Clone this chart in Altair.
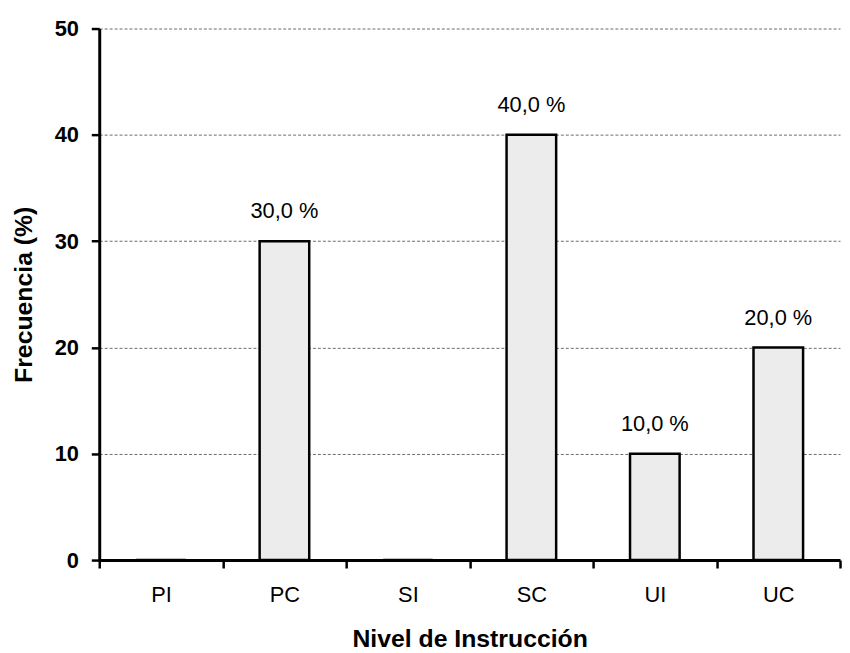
import altair as alt
import pandas as pd

categories = ["PI", "PC", "SI", "SC", "UI", "UC"]
values = [0.0, 30.0, 0.0, 40.0, 10.0, 20.0]
labels = [(f"{v:.1f}".replace(".", ",") + " %") if v > 0 else "" for v in values]
y_ticks = [0, 10, 20, 30, 40, 50]

df = pd.DataFrame({"cat": categories, "val": values, "lab": labels})

FONT = "Liberation Sans"

x_enc = alt.X(
    "cat:N",
    sort=categories,
    scale=alt.Scale(paddingInner=0, paddingOuter=0),
    axis=alt.Axis(
        title="Nivel de Instrucción",
        titleFont=FONT, titleFontSize=25, titleFontWeight="bold", titleColor="black",
        titlePadding=21,
        labelFont=FONT, labelFontSize=22, labelColor="black", labelAngle=0,
        labelPadding=17, labelBaseline="top",
        tickBand="extent", tickSize=8, tickWidth=2.5, tickColor="black",
        domainColor="black", domainWidth=3,
        grid=False,
    ),
)

y_enc = alt.Y(
    "val:Q",
    scale=alt.Scale(domain=[0, 50], nice=False),
    axis=alt.Axis(
        title="Frecuencia (%)",
        values=y_ticks,
        titleFont=FONT, titleFontSize=25, titleFontWeight="bold", titleColor="black",
        titleX=-76, titleBaseline="middle", titleAlign="center", titleAngle=270,
        labelFont=FONT, labelFontSize=22, labelFontWeight="bold", labelColor="black",
        labelPadding=13,
        tickSize=8, tickWidth=2.5, tickColor="black",
        domainColor="black", domainWidth=3,
        grid=True, gridColor="#6a6a6a", gridWidth=1, gridDash=[3, 2],
    ),
)

bars = alt.Chart(df).mark_bar(
    width=50, fill="#ececec", stroke="black", strokeWidth=2.5
).encode(x=x_enc, y=y_enc)

text = alt.Chart(df).transform_filter("datum.val > 0").mark_text(
    font=FONT, fontSize=22, color="black", baseline="alphabetic", dy=-23
).encode(x=alt.X("cat:N", sort=categories), y=alt.Y("val:Q"), text="lab:N")

chart = (bars + text).properties(
    width=747, height=536,
    autosize=alt.AutoSizeParams(type="none"),
    padding={"left": 92, "top": 18, "right": 2, "bottom": 90},
).configure_view(stroke=None)

chart.save("out.html", embed_options={"renderer": "svg", "actions": False})
